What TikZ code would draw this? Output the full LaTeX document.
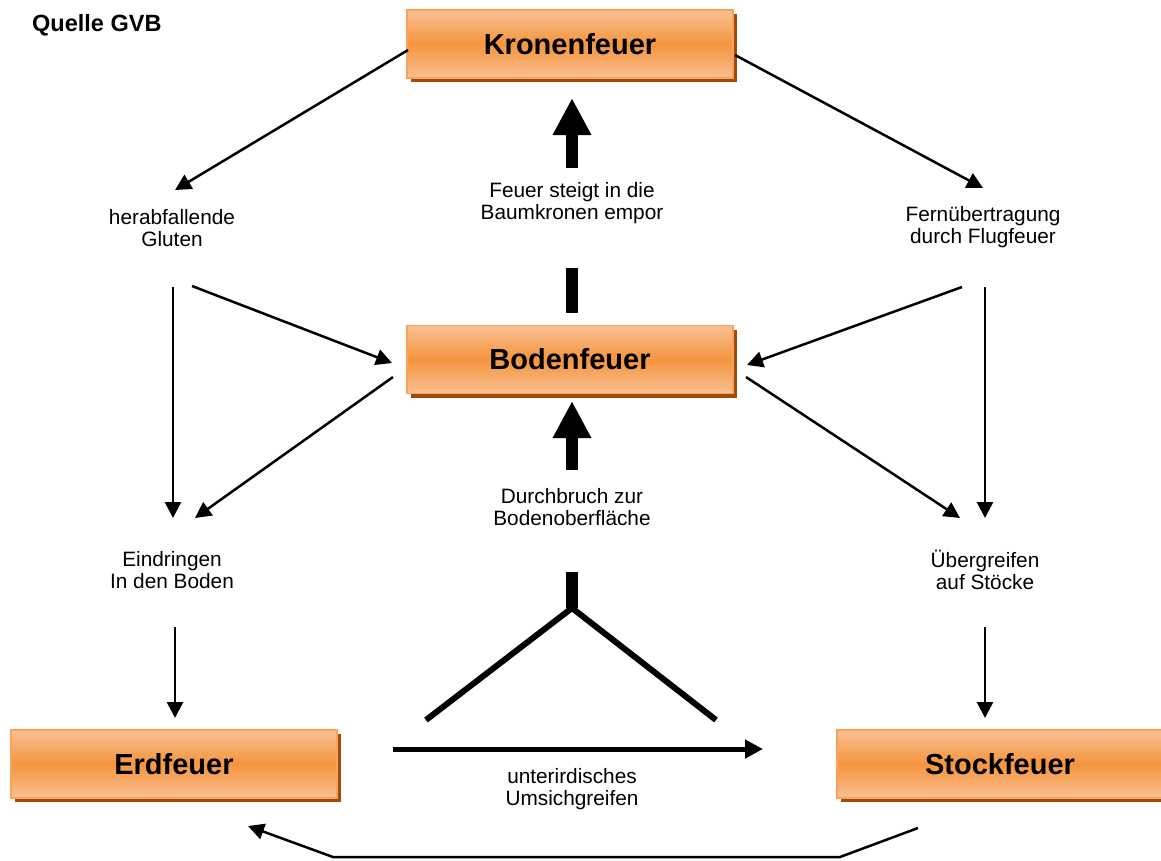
\documentclass[tikz,border=0pt]{standalone}
\usepackage{fontspec}
\setmainfont{Liberation Sans}
\usetikzlibrary{arrows.meta,shadows}
\definecolor{boxlight}{HTML}{F9C092}
\definecolor{boxmid}{HTML}{F5953F}
\definecolor{boxborder}{HTML}{F7A35C}
\definecolor{boxshadow}{HTML}{A04C08}
\tikzset{
  firebox/.style={rectangle, minimum width=326pt, minimum height=68pt, inner sep=0pt,
    draw=boxborder, line width=1.5pt,
    top color=boxlight, bottom color=boxlight, middle color=boxmid,
    general shadow={shadow xshift=4pt, shadow yshift=-4pt, fill=boxshadow},
    font=\fontsize{29}{32}\selectfont\bfseries},
  lbl/.style={align=center, inner sep=0pt, font=\fontsize{20.8}{22.5}\selectfont},
  thin/.style={line width=2.5pt, -{Triangle[length=16pt,width=16pt]}},
  bigarrow/.style={line width=12pt, -{Triangle[length=37pt,width=36pt]}},
  bigbar/.style={line width=12pt},
  yline/.style={line width=6pt},
  flatarrow/.style={line width=5pt, -{Triangle[length=18pt,width=18pt]}}
}
\begin{document}
\begin{tikzpicture}[x=1pt,y=-1pt]
\useasboundingbox (0,0) rectangle (1161,860);
\begin{scope}
\clip (0,0) rectangle (1161,860);
% boxes
\node[firebox] (kronen) at (570,44) {Kronenfeuer};
\node[firebox] (boden) at (570,359.5) {Bodenfeuer};
\node[firebox] (erd) at (174,764) {Erdfeuer};
\node[firebox] (stock) at (1000,764) {Stockfeuer};
\end{scope}
% source
\node[anchor=west, inner sep=0pt, font=\fontsize{23.5}{26}\selectfont\bfseries] (quelle) at (32,25) {Quelle GVB};
% labels
\node[lbl] (gluten) at (172,228) {herabfallende\\Gluten};
\node[lbl] (steigt) at (572,203) {Feuer steigt in die\\Baumkronen empor};
\node[lbl] (flug) at (983,227) {Fernübertragung\\durch Flugfeuer};
\node[lbl] (durch) at (572,507) {Durchbruch zur\\Bodenoberfläche};
\node[lbl] (eindringen) at (172,570) {Eindringen\\In den Boden};
\node[lbl] (uebergreifen) at (985,570) {Übergreifen\\auf Stöcke};
\node[lbl] (unter) at (572,789) {unterirdisches\\Umsichgreifen};
% coordinates
\coordinate (k1) at (408,50);
\coordinate (g1) at (175,190);
\coordinate (k2) at (735,55);
\coordinate (f1) at (983,188);
\coordinate (g2) at (173,287);
\coordinate (e1) at (173,518);
\coordinate (g3) at (192,286);
\coordinate (b1) at (392,363);
\coordinate (b2) at (393,377);
\coordinate (e2) at (195,518);
\coordinate (f2) at (962,287);
\coordinate (b3) at (747,365);
\coordinate (f3) at (985,287);
\coordinate (u1) at (985,518);
\coordinate (b4) at (746,377);
\coordinate (u2) at (960,518);
\coordinate (e3) at (175,627);
\coordinate (erdtop) at (175,718);
\coordinate (u3) at (985,627);
\coordinate (stocktop) at (985,718);
\coordinate (s1) at (918,828);
\coordinate (s2) at (840,857);
\coordinate (s3) at (333,857);
\coordinate (erdbot) at (248,826);
% thin arrows
\draw[thin] (k1) -- (g1);
\draw[thin] (k2) -- (f1);
\draw[thin] (g2) -- (e1);
\draw[thin] (g3) -- (b1);
\draw[thin] (b2) -- (e2);
\draw[thin] (f2) -- (b3);
\draw[thin] (f3) -- (u1);
\draw[thin] (b4) -- (u2);
\draw[thin] (e3) -- (erdtop);
\draw[thin] (u3) -- (stocktop);
\draw[thin, line join=miter] (s1) -- (s2) -- (s3) -- (erdbot);
% thick arrows
\coordinate (t1) at (572,168);
\coordinate (t2) at (572,98);
\coordinate (t3) at (572,268);
\coordinate (t4) at (572,313);
\draw[bigarrow] (t1) -- (t2);
\draw[bigbar] (t3) -- (t4);
\coordinate (d1) at (572,470);
\coordinate (d2) at (572,401);
\coordinate (d3) at (572,572);
\coordinate (fork) at (572,608);
\coordinate (yl) at (426,720);
\coordinate (yr) at (716,720);
\draw[bigarrow] (d1) -- (d2);
\draw[bigbar] (d3) -- (fork);
\draw[yline] (yl) -- (fork) -- (yr);
\coordinate (h1) at (393,749);
\coordinate (h2) at (763,749);
\draw[flatarrow] (h1) -- (h2);
\end{tikzpicture}
\end{document}
